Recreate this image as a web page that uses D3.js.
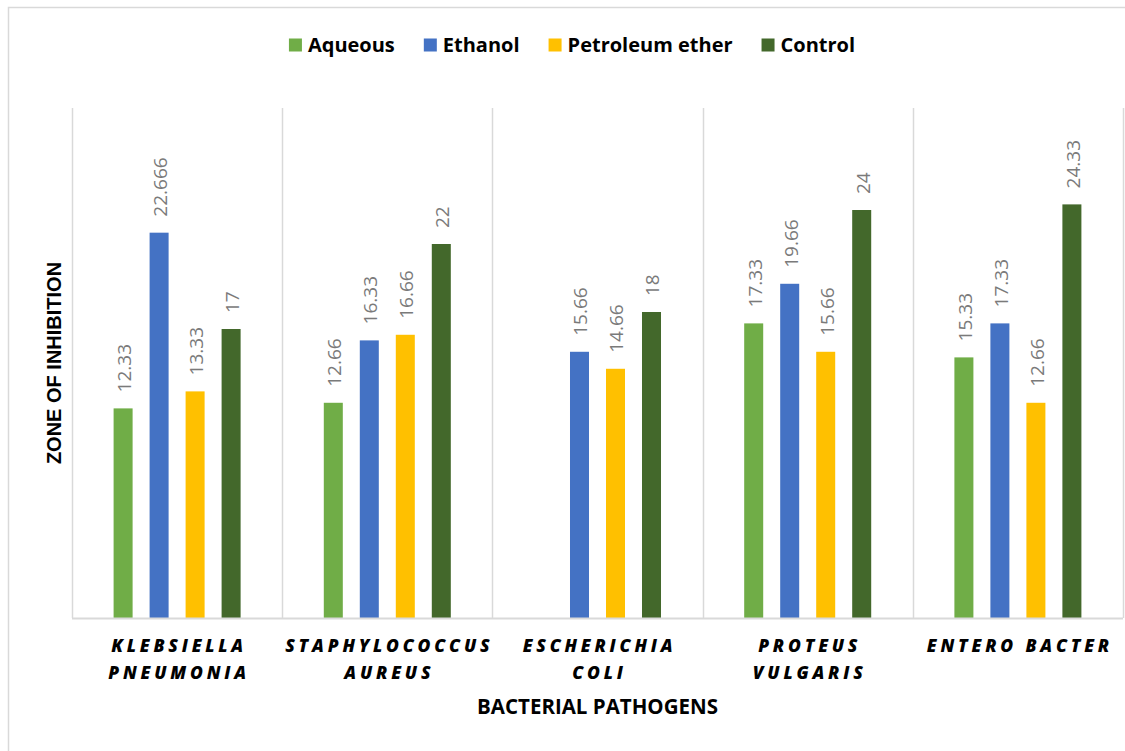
<!DOCTYPE html>
<html>
<head>
<meta charset="utf-8">
<script src="https://cdn.jsdelivr.net/npm/d3@7"></script>
<style>
  html, body { margin: 0; padding: 0; background: #fff; }
  svg { display: block; }
</style>
</head>
<body>
<svg id="chart" width="1125" height="751"></svg>
<script>
// Bacterial pathogens (category axis); each entry is one line of the label
const categories = ["Klebsiella pneumonia", "Staphylococcus aureus", "Escherichia coli", "Proteus vulgaris", "Entero bacter"];
const categoryLines = [
  ["KLEBSIELLA", "PNEUMONIA"],
  ["STAPHYLOCOCCUS", "AUREUS"],
  ["ESCHERICHIA", "COLI"],
  ["PROTEUS", "VULGARIS"],
  ["ENTERO BACTER"]
];

// Extract series
const seriesNames = ["Aqueous", "Ethanol", "Petroleum ether", "Control"];
const aqueous        = [12.33, 12.66, null, 17.33, 15.33];
const ethanol        = [22.666, 16.33, 15.66, 19.66, 17.33];
const petroleumEther = [13.33, 16.66, 14.66, 15.66, 12.66];
const control        = [17, 22, 18, 24, 24.33];

const seriesColors = ["#70ad47", "#4472c4", "#ffc000", "#43682b"];
const yDomain = [0, 30];

const seriesValues = [aqueous, ethanol, petroleumEther, control];
const rows = [];
categories.forEach((c, ci) => {
  seriesNames.forEach((s, si) => {
    const v = seriesValues[si][ci];
    if (v !== null) rows.push({ category: c, series: s, value: v, si });
  });
});

const svg = d3.select("#chart");
const plot = { left: 72, right: 1123, top: 108, bottom: 618 };

// Outer chart frame
svg.append("rect")
  .attr("x", 8.5).attr("y", 7.5)
  .attr("width", 1140).attr("height", 760)
  .attr("fill", "#fff")
  .attr("stroke", "#d9d9d9").attr("stroke-width", 1.5);

const x0 = d3.scaleBand().domain(categories).range([plot.left, plot.right]).padding(0);
const groupWidth = 144;
const x1 = d3.scaleBand().domain(seriesNames)
  .range([-groupWidth / 2, groupWidth / 2])
  .paddingInner(0.472).paddingOuter(0.236);
const y = d3.scaleLinear().domain(yDomain).range([plot.bottom, plot.top]);

// Vertical separators between categories
const bounds = categories.map(c => x0(c)).concat([plot.right]);
svg.append("g").selectAll("line").data(bounds).join("line")
  .attr("x1", d => Math.round(d) + 0.5).attr("x2", d => Math.round(d) + 0.5)
  .attr("y1", plot.top).attr("y2", plot.bottom)
  .attr("stroke", "#d9d9d9").attr("stroke-width", 1.5);

// Bars
svg.append("g").selectAll("rect").data(rows).join("rect")
  .attr("x", d => x0(d.category) + x0.bandwidth() / 2 + x1(d.series))
  .attr("width", x1.bandwidth())
  .attr("y", d => y(d.value))
  .attr("height", d => y(0) - y(d.value))
  .attr("fill", d => seriesColors[d.si]);

// Value labels, rotated above each bar
svg.append("g").selectAll("text").data(rows).join("text")
  .attr("transform", d => {
    const cx = x0(d.category) + x0.bandwidth() / 2 + x1(d.series) + x1.bandwidth() / 2 + 1;
    return `translate(${cx},${y(d.value) - 16}) rotate(-90)`;
  })
  .attr("dy", "0.36em")
  .attr("text-anchor", "start")
  .attr("font-family", "'Open Sans', sans-serif")
  .attr("font-size", 19)
  .attr("fill", "#7a7a7a")
  .text(d => String(d.value));

// Category axis baseline
svg.append("line")
  .attr("x1", plot.left).attr("x2", plot.right)
  .attr("y1", plot.bottom + 0.5).attr("y2", plot.bottom + 0.5)
  .attr("stroke", "#d9d9d9").attr("stroke-width", 2);

// Category labels
const catG = svg.append("g");
categories.forEach((c, i) => {
  const cx = x0(c) + x0.bandwidth() / 2;
  categoryLines[i].forEach((line, li) => {
    catG.append("text")
      .attr("x", cx + 2).attr("y", 652 + li * 27)
      .attr("text-anchor", "middle")
      .attr("font-family", "'Open Sans', sans-serif")
      .attr("font-size", 17.5)
      .attr("font-weight", 800)
      .attr("font-style", "italic")
      .attr("letter-spacing", "3.8px")
      .attr("fill", "#000")
      .text(line);
  });
});

// Axis titles
svg.append("text")
  .attr("x", (plot.left + plot.right) / 2).attr("y", 714)
  .attr("text-anchor", "middle")
  .attr("font-family", "'Open Sans', sans-serif")
  .attr("font-size", 20.5).attr("font-weight", "bold")
  .attr("fill", "#000")
  .text("BACTERIAL PATHOGENS");

svg.append("text")
  .attr("transform", `translate(61,${(plot.top + plot.bottom) / 2}) rotate(-90)`)
  .attr("text-anchor", "middle")
  .attr("font-family", "'Liberation Sans', Arial, sans-serif")
  .attr("font-size", 20).attr("font-weight", "bold")
  .attr("fill", "#000")
  .text("ZONE OF INHIBITION");

// Legend
const legend = svg.append("g");
const items = seriesNames.map((s, i) => {
  const g = legend.append("g");
  g.append("rect").attr("width", 13).attr("height", 13).attr("y", -13.5).attr("fill", seriesColors[i]);
  const t = g.append("text")
    .attr("x", 19).attr("y", 0)
    .attr("font-family", "'Open Sans', sans-serif")
    .attr("font-size", 20).attr("font-weight", "bold")
    .attr("fill", "#000")
    .text(s);
  return { g, w: 19 + t.node().getComputedTextLength() };
});
const gap = 29;
const total = d3.sum(items, d => d.w) + gap * (items.length - 1);
let lx = 572 - total / 2;
items.forEach(it => {
  it.g.attr("transform", `translate(${lx},52)`);
  lx += it.w + gap;
});
</script>
</body>
</html>
